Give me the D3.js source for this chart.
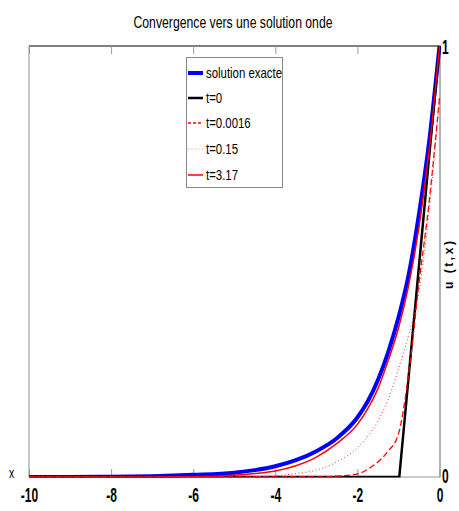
<!DOCTYPE html>
<html><head><meta charset="utf-8">
<script src="https://cdn.jsdelivr.net/npm/d3@7"></script>
<style>body{margin:0;background:#fff;} svg{display:block;font-family:"Liberation Sans",Arial,sans-serif;}</style>
</head><body>
<script>
// ---- data ----
const xTicks = [-10, -8, -6, -4, -2, 0];
const seriesNames = ["solution exacte", "t=0", "t=0.0016", "t=0.15", "t=3.17"];

const xExact = [-10,-9,-8,-7,-6,-5,-4.5,-4,-3.5,-3,-2.5,-2,-1.75,-1.5,-1.25,-1,-0.75,-0.5,-0.25,0];
const uExact = [0,0,0.0007,0.002,0.005,0.01,0.016,0.025,0.039,0.06,0.09,0.138,0.175,0.225,0.29,0.37,0.47,0.61,0.78,1.0];

const xT0 = [-10, -0.98, 0];
const uT0 = [0, 0, 1];

const xT1 = [-10,-3,-2.5,-2,-1.75,-1.5,-1.25,-1,-0.75,-0.5,-0.25,-0.1,0];
const uT1 = [0,0,0.002,0.007,0.018,0.035,0.06,0.1,0.24,0.45,0.64,0.78,0.88];

const xT2 = [-10,-5,-4,-3.5,-3,-2.5,-2,-1.5,-1.25,-1,-0.75,-0.5,-0.25,0];
const uT2 = [0,0,0.003,0.008,0.016,0.035,0.068,0.13,0.18,0.25,0.33,0.43,0.62,0.88];

const xT3 = [-10,-9,-8,-7,-6,-5,-4.5,-4,-3.5,-3,-2.5,-2,-1.75,-1.5,-1.25,-1,-0.75,-0.5,-0.25,0];
const uT3 = [0,0,0,0,0.001,0.004,0.008,0.014,0.026,0.046,0.078,0.122,0.158,0.205,0.27,0.345,0.445,0.58,0.76,1.0];

// ---- drawing ----
const W = 459, H = 511;
const L = 29, R = 439.5, T = 46, B = 477;
const svg = d3.select("body").append("svg").attr("width", W).attr("height", H);

const x = d3.scaleLinear().domain([-10, 0]).range([L, R]);
const y = d3.scaleLinear().domain([0, 1]).range([B, T]);

function condense(sel, ratio) {
  sel.each(function () {
    const len = this.getComputedTextLength();
    d3.select(this).attr("textLength", len * ratio).attr("lengthAdjust", "spacingAndGlyphs");
  });
}

// title
svg.append("text").attr("x", 233).attr("y", 28).attr("text-anchor", "middle")
  .style("font-size", "17px").attr("fill", "#000")
  .text("Convergence vers une solution onde")
  .attr("textLength", 199).attr("lengthAdjust", "spacingAndGlyphs");

// borders
svg.append("line").attr("x1", L).attr("x2", L).attr("y1", T).attr("y2", B).attr("stroke", "#c8c8c8").attr("stroke-width", 2);
svg.append("line").attr("x1", R + 0.5).attr("x2", R + 0.5).attr("y1", T).attr("y2", B).attr("stroke", "#9a9a9a").attr("stroke-width", 1.5);
svg.append("line").attr("x1", L).attr("x2", R + 1).attr("y1", T).attr("y2", T).attr("stroke", "#555").attr("stroke-width", 1.3);
svg.append("line").attr("x1", L).attr("x2", R + 1).attr("y1", B).attr("y2", B).attr("stroke", "#999").attr("stroke-width", 1);

// axes ticks
const axB = svg.append("g").attr("transform", `translate(0,${B})`)
  .call(d3.axisBottom(x).tickValues(xTicks).tickSizeInner(-8).tickSizeOuter(0).tickPadding(11).tickFormat(d3.format("d")));
axB.select(".domain").remove();
axB.selectAll(".tick line").attr("stroke", "#999");
axB.selectAll(".tick text").style("font-size", "20px").style("font-weight", "bold").attr("fill", "#000")
  .style("font-family", "'Liberation Sans',Arial,sans-serif").text(d => d3.format("d")(d).replace("\u2212", "-"));
condense(axB.selectAll(".tick text"), 0.6);

const axT = svg.append("g").attr("transform", `translate(0,${T})`)
  .call(d3.axisTop(x).tickValues(xTicks).tickSizeInner(-8).tickSizeOuter(0).tickFormat(""));
axT.select(".domain").remove();
axT.selectAll(".tick line").attr("stroke", "#999");

// right y labels
const yr = svg.append("g");
yr.selectAll("text").data([1, 0]).enter().append("text")
  .attr("x", R + 2.5).attr("y", d => y(d) + (d === 1 ? 8 : 6))
  .style("font-size", "20px").style("font-weight", "bold").text(d => d);
condense(yr.selectAll("text"), 0.6);

// axis names
const xl = svg.append("text").attr("x", 9).attr("y", 478).style("font-size", "15px").text("x");
condense(xl, 0.7);
svg.append("text").attr("transform", `translate(453,265) rotate(-90)`).attr("text-anchor", "middle")
  .style("font-size", "12px").style("font-weight", "bold").text("u (t,x)")
  .attr("textLength", 48).attr("lengthAdjust", "spacing");

// curves
svg.append("clipPath").attr("id", "clip").append("rect")
  .attr("x", L).attr("y", T - 2).attr("width", R - L + 2).attr("height", B - T + 2.5);
const plot = svg.append("g").attr("clip-path", "url(#clip)");
const zip = (a, b) => a.map((v, i) => [v, b[i]]);

const styles = [
  {name: seriesNames[0], data: zip(xExact, uExact), color: "#0000ff", width: 4, dash: null, curve: d3.curveMonotoneX},
  {name: seriesNames[1], data: zip(xT0, uT0), color: "#000", width: 2.5, dash: null, curve: d3.curveLinear},
  {name: seriesNames[2], data: zip(xT1, uT1), color: "#ff0000", width: 1.3, dash: "6,3", curve: d3.curveMonotoneX},
  {name: seriesNames[3], data: zip(xT2, uT2), color: "#ff3030", width: 1, dash: "1,2.5", curve: d3.curveMonotoneX},
  {name: seriesNames[4], data: zip(xT3, uT3), color: "#ff0000", width: 1.5, dash: null, curve: d3.curveMonotoneX}
];
styles.forEach(s => {
  const line = d3.line().x(d => x(d[0])).y(d => y(d[1])).curve(s.curve);
  plot.append("path").datum(s.data).attr("d", line).attr("fill", "none")
    .attr("stroke", s.color).attr("stroke-width", s.width).attr("stroke-dasharray", s.dash);
});

// legend
const lg = svg.append("g");
lg.append("rect").attr("x", 186.5).attr("y", 57.5).attr("width", 96).attr("height", 130)
  .attr("fill", "#fff").attr("stroke", "#888").attr("stroke-width", 1);
const rowsY = [73, 98, 123, 149, 175];
styles.forEach((s, i) => {
  lg.append("line").attr("x1", 188).attr("x2", 203).attr("y1", rowsY[i]).attr("y2", rowsY[i])
    .attr("stroke", i === 3 ? "#ff8080" : s.color).attr("stroke-width", s.width).attr("stroke-dasharray", i === 2 ? "3,2" : s.dash);
  const t = lg.append("text").attr("x", 206).attr("y", rowsY[i] + 5).style("font-size", "15px").text(s.name);
  condense(t, 0.76);
});
</script>
</body></html>
